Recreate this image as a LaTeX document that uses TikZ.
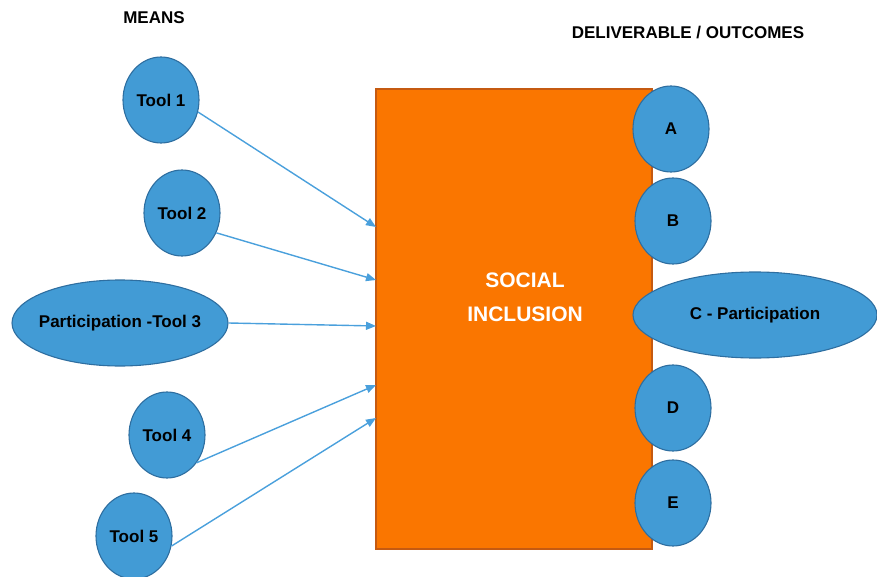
\documentclass[tikz,border=0pt]{standalone}
\usepackage{fontspec}
\setmainfont{Liberation Sans}
\usetikzlibrary{shapes.geometric,arrows.meta}

\definecolor{toolblue}{RGB}{66,155,213}
\definecolor{tooledge}{RGB}{46,110,160}
\definecolor{boxorange}{RGB}{250,118,0}
\definecolor{boxedge}{RGB}{197,90,17}
\definecolor{arrowblue}{RGB}{74,160,220}

\tikzset{
  blob/.style={ellipse, draw=tooledge, fill=toolblue, line width=1.1pt, inner sep=0pt,
    minimum width=76pt, minimum height=86pt,
    font=\fontsize{17}{20}\selectfont\bfseries},
  heading/.style={font=\fontsize{17}{20}\selectfont\bfseries},
  feed/.style={draw=arrowblue, line width=1.4pt, -{Triangle[length=10pt,width=8pt]}}
}

\begin{document}
\begin{tikzpicture}[x=1pt, y=-1pt]
  \useasboundingbox (0,0) rectangle (877,577);
  % headings
  \node[heading] (means) at (154,18) {MEANS};
  \node[heading] (outcomes) at (688,33) {DELIVERABLE / OUTCOMES};
  % central box
  \node[draw=boxedge, fill=boxorange, line width=2pt, minimum width=276pt, minimum height=460pt,
    inner sep=0pt] (box) at (514,319) {};
  \node[align=center, text=white, font=\fontsize{21}{34}\selectfont\bfseries] (social) at (525,297) {SOCIAL\\INCLUSION};
  % means
  \node[blob] (tool1) at (161,100) {Tool 1};
  \node[blob] (tool2) at (182,213) {Tool 2};
  \node[blob, inner xsep=-7pt, minimum width=216pt] (tool3) at (120,323) {Participation -Tool 3};
  \node[blob] (tool4) at (167,435) {Tool 4};
  \node[blob] (tool5) at (134,536) {Tool 5};
  % outcomes
  \node[blob] (outA) at (671,129) {A};
  \node[blob] (outB) at (673,221) {B};
  \node[blob, minimum width=244pt] (outC) at (755,315) {C - Participation};
  \node[blob] (outD) at (673,408) {D};
  \node[blob] (outE) at (673,503) {E};
  % arrow ends on the box
  \coordinate (in1) at (376,227);
  \coordinate (in2) at (376,280);
  \coordinate (in3) at (376,326);
  \coordinate (in4) at (376,385);
  \coordinate (in5) at (376,418);
  \draw[feed] (tool1.-18) -- (in1);
  \draw[feed] (tool2.-30) -- (in2);
  \draw[feed] (tool3.east) -- (in3);
  \draw[feed] (tool4.-43) -- (in4);
  \draw[feed] (tool5.-15) -- (in5);
\end{tikzpicture}
\end{document}
